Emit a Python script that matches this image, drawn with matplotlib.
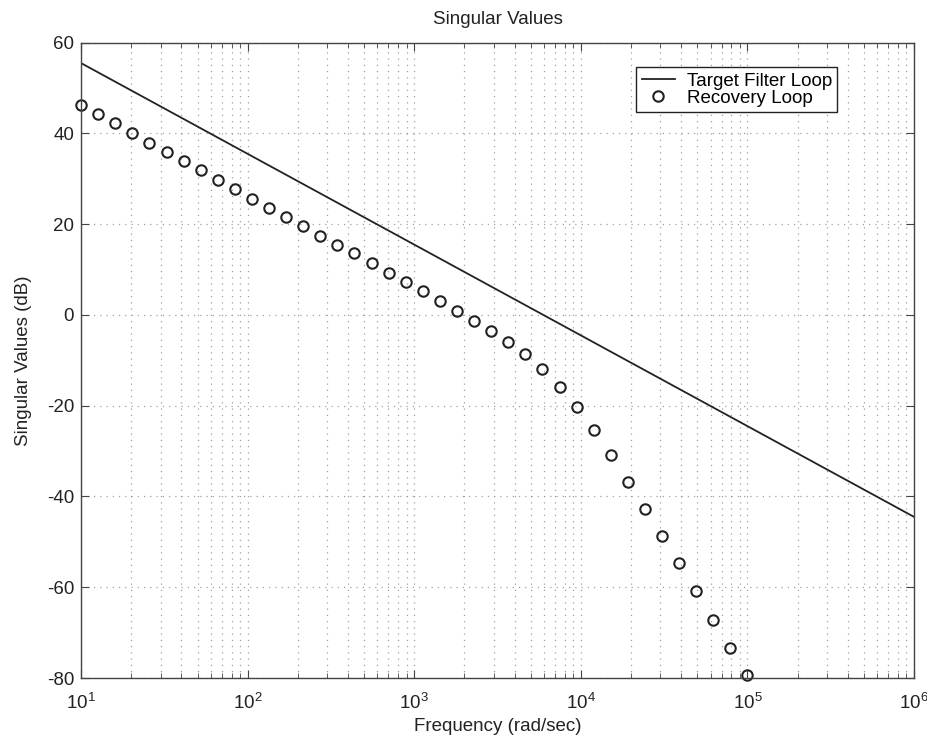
import numpy as np
import matplotlib
matplotlib.use("Agg")
import matplotlib.pyplot as plt
from matplotlib.ticker import LogLocator, NullFormatter, MultipleLocator

plt.rcParams['font.family'] = ['Liberation Sans', 'DejaVu Sans']
plt.rcParams['axes.unicode_minus'] = False

# target filter loop (straight -20 dB/dec line)
target_freq = [10, 1e6]
target_db = [55.5, -44.5]

# recovery loop samples (rad/sec)
recovery_freq = [10, 12.66, 16.04, 20.31, 25.72, 32.57, 41.25, 52.24, 66.16, 83.78,
                 106.1, 134.4, 170.2, 215.4, 272.8, 345.5, 437.5, 554.1, 701.7, 888.6,
                 1125, 1425, 1805, 2286, 2894, 3665, 4642, 5878, 7444, 9427,
                 11938, 15118, 19146, 24245, 30703, 38882, 49239, 62355, 78965, 100000]
recovery_db = [46.2, 44.2, 42.2, 40.2, 38.0, 36.0, 33.9, 31.9, 29.7, 27.7,
               25.6, 23.6, 21.6, 19.5, 17.5, 15.4, 13.6, 11.4, 9.3, 7.3,
               5.2, 3.1, 0.9, -1.3, -3.6, -6.0, -8.7, -12.0, -15.8, -20.2,
               -25.3, -30.9, -36.9, -42.8, -48.7, -54.7, -60.9, -67.2, -73.3, -79.3]

fig = plt.figure(figsize=(9.28, 7.44), dpi=100)
ax = fig.add_axes([0.0874, 0.0887, 0.8976, 0.8539])

ax.semilogx(target_freq, target_db, color='#222222', lw=1.3, label='Target Filter Loop')
ax.semilogx(recovery_freq, recovery_db, 'o', mfc='none', mec='#222222', mew=1.5,
            ms=7.5, label='Recovery Loop', clip_on=False)

ax.set_xlim(10, 1e6)
ax.set_ylim(-80, 60)
ax.yaxis.set_major_locator(MultipleLocator(20))
ax.xaxis.set_major_locator(LogLocator(base=10, numticks=10))
ax.xaxis.set_minor_locator(LogLocator(base=10, subs=np.arange(2, 10), numticks=20))
ax.xaxis.set_minor_formatter(NullFormatter())

gridstyle = dict(color='#a0a0a0', linestyle=(0, (1, 4)), linewidth=0.9)
ax.grid(True, which='major', axis='both', **gridstyle)
ax.grid(True, which='minor', axis='x', **gridstyle)

ax.tick_params(which='both', direction='in', top=True, right=True, colors='#444444',
               labelcolor='#222222', labelsize=13.5)
ax.tick_params(which='major', length=6)
ax.tick_params(which='minor', length=3.5)
ax.tick_params(axis='x', which='major', pad=11)
ax.tick_params(axis='y', which='major', pad=5)
for s in ax.spines.values():
    s.set_color('#444444')
    s.set_linewidth(1.0)

ax.set_title('Singular Values', fontsize=13.5, pad=13.5, color='#222222')
ax.set_xlabel('Frequency (rad/sec)', fontsize=13.5, color='#222222', labelpad=3)
ax.set_ylabel('Singular Values (dB)', fontsize=13.5, color='#222222', labelpad=11)

leg = ax.legend(loc='upper right', bbox_to_anchor=(0.908, 0.962), fontsize=13.5,
                handlelength=1.8, handletextpad=0.6, borderpad=0.3, labelspacing=0.0,
                fancybox=False, framealpha=1, edgecolor='#222222', borderaxespad=0)
leg.get_frame().set_linewidth(1.0)

fig.savefig('out.png', dpi=100)
